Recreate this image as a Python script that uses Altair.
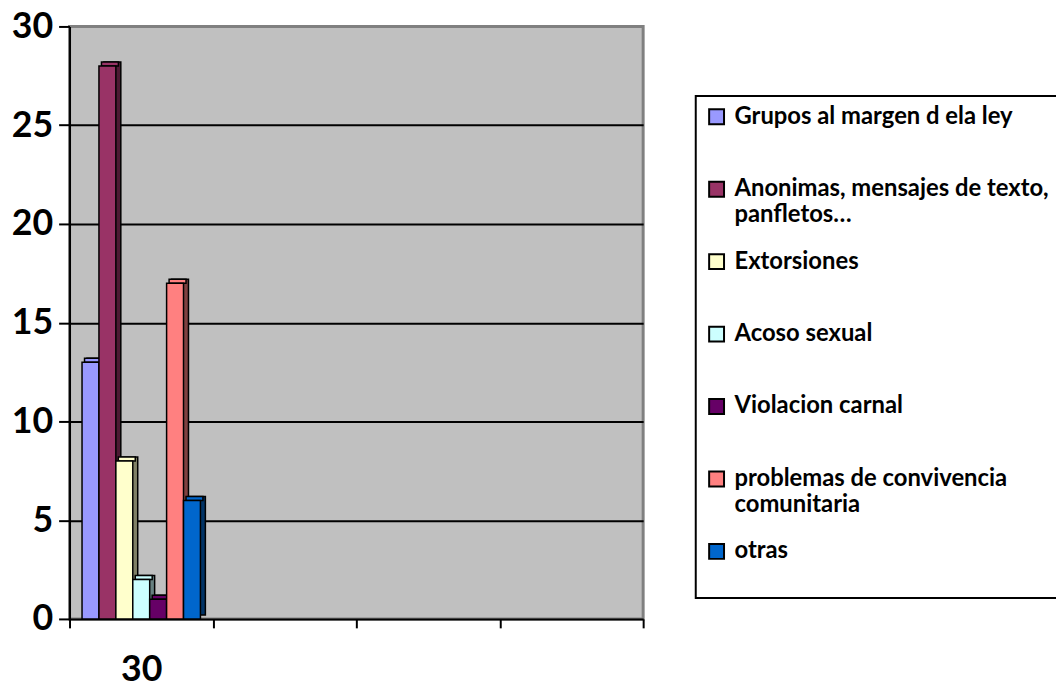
import altair as alt
import pandas as pd

categories = ["30", "c2", "c3", "c4"]
series = [
    "Grupos al margen d ela ley",
    "Anonimas, mensajes de texto,|panfletos…",
    "Extorsiones",
    "Acoso sexual",
    "Violacion carnal",
    "problemas de convivencia|comunitaria",
    "otras|",
]
values = [13, 28, 8, 2, 1, 17, 6]
front_colors = ["#9999FF", "#993366", "#FFFFCC", "#CCFFFF", "#660066", "#FF8080", "#0066CC"]
side_colors = ["#4D4D80", "#4D1A33", "#808066", "#668080", "#330033", "#804040", "#003366"]
y_ticks = [0, 5, 10, 15, 20, 25, 30]

df = pd.DataFrame({"cat": ["30"] * len(series), "serie": series, "val": values})
side_domain = [s + " (lado)" for s in series]

W, H = 578, 597

x_enc = alt.X(
    "cat:N",
    scale=alt.Scale(domain=categories, paddingInner=0, paddingOuter=0),
    axis=alt.Axis(
        labelExpr="datum.value == '30' ? '30' : ''",
        labelAngle=0,
        tickBand="extent",
        tickSize=9,
        labelPadding=25,
    ),
    title=None,
)
y_enc = alt.Y(
    "val:Q",
    scale=alt.Scale(domain=[0, 30], nice=False, zero=True),
    axis=alt.Axis(
        values=y_ticks,
        tickSize=11,
        labelPadding=6,
        grid=True,
        gridColor="black",
        gridWidth=2,
        gridOpacity={"condition": {"test": "datum.value > 0 && datum.value < 30", "value": 1}, "value": 0},
    ),
    title=None,
)

color_enc = alt.Color(
    "serie:N",
    scale=alt.Scale(domain=series, range=front_colors),
    title=None,
    legend=alt.Legend(
        orient="none",
        legendX=631,
        legendY=70,
        labelExpr="split(datum.label, '|')",
        symbolType="square",
        symbolSize=225,
        symbolStrokeColor="black",
        symbolStrokeWidth=2,
        labelFont="Lato",
        labelFontSize=24,
        labelFontWeight="bold",
        labelColor="black",
        labelOffset=6,
        labelLimit=700,
        rowPadding=23,
        gridAlign="all",
        padding=9,
        fillColor="white",
        strokeColor="black",
    ),
)

shadow = (
    alt.Chart(df)
    .transform_calculate(lado="datum.serie + ' (lado)'")
    .mark_bar(stroke="black", strokeWidth=1.5, yOffset=-4, y2Offset=-4)
    .encode(
        x=x_enc,
        xOffset=alt.XOffset(
            "serie:N",
            scale=alt.Scale(domain=series, paddingInner=0, paddingOuter=0.7394, align=0.698),
        ),
        y=y_enc,
        fill=alt.Fill("lado:N", scale=alt.Scale(domain=side_domain, range=side_colors), legend=None),
    )
)

top = alt.Chart(df).mark_bar(stroke="black", strokeWidth=1.5, yOffset=-4).encode(
    x=x_enc,
    xOffset=alt.XOffset(
        "serie:N",
        scale=alt.Scale(domain=series, paddingInner=0, paddingOuter=0.7394, align=0.6),
    ),
    y=y_enc,
    y2=alt.Y2("val:Q"),
    color=color_enc,
)

front = alt.Chart(df).mark_bar(stroke="black", strokeWidth=1.5).encode(
    x=x_enc,
    xOffset=alt.XOffset(
        "serie:N",
        scale=alt.Scale(domain=series, paddingInner=0, paddingOuter=0.7394, align=0.5),
    ),
    y=y_enc,
    color=color_enc,
)

chart = (
    alt.layer(shadow, top, front)
    .resolve_scale(xOffset="independent")
    .properties(
        width=W,
        height=H,
        autosize=alt.AutoSizeParams(type="none"),
        padding={"left": 62, "top": 16, "right": 416, "bottom": 64},
    )
    .configure_view(fill="#C0C0C0", stroke="#808080", strokeWidth=3)
    .configure_axis(
        domainColor="black",
        domainWidth=2,
        tickColor="black",
        tickWidth=2,
        labelFont="Lato",
        labelFontWeight="bold",
        labelFontSize=36,
        labelColor="black",
    )
    .configure_legend(strokeWidth=2)
)

chart.save("out.html", embed_options={"renderer": "svg", "actions": False})
